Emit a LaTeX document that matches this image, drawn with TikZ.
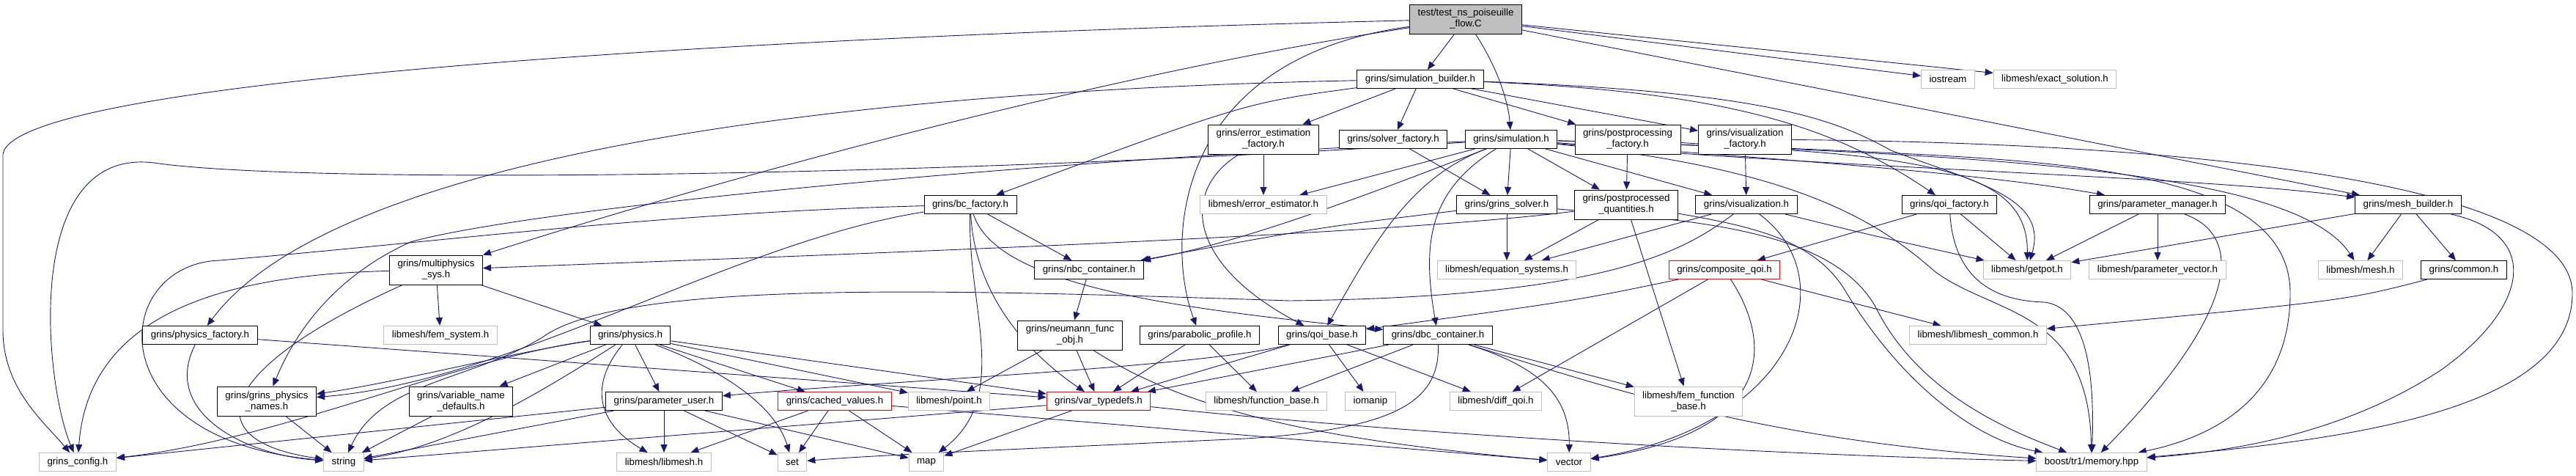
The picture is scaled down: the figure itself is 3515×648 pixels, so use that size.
\documentclass[tikz,border=0pt]{standalone}
\usepackage{fontspec}
\setmainfont{Liberation Sans}
\usetikzlibrary{arrows.meta}
\definecolor{edgec}{HTML}{191970}
\definecolor{grayb}{HTML}{BFBFBF}
\definecolor{redb}{HTML}{FF0000}
\pgfdeclarelayer{bg}
\pgfsetlayers{bg,main}
\begin{document}
\begin{tikzpicture}[x=1pt,y=-1pt,
 box/.style={draw=black, line width=1pt, rectangle, inner xsep=11pt, inner ysep=2pt, minimum height=25pt, align=center, font=\fontsize{13.3}{15}\selectfont, fill=white},
 gbox/.style={box, draw=grayb},
 rbox/.style={box, draw=redb},
 two/.style={minimum height=40pt},
 e/.style={draw=edgec, line width=0.9pt, -{Triangle[length=11pt,width=9pt]}},
]
\useasboundingbox (0,0) rectangle (3515,648);
% row 1
\node[box,two,fill=grayb] (test) at (2000,26) {test/test\_ns\_poiseuille\\\_flow.C};
% row 2
\node[box] (SB) at (1938,108) {grins/simulation\_builder.h};
\node[gbox] (iostream) at (2658,108) {iostream};
\node[gbox] (exact) at (2804,108) {libmesh/exact\_solution.h};
% row 3
\node[box,two] (eef) at (1724,190) {grins/error\_estimation\\\_factory.h};
\node[box] (solverf) at (1901,190) {grins/solver\_factory.h};
\node[box] (sim) at (2062,190) {grins/simulation.h};
\node[box,two] (ppf) at (2221,190) {grins/postprocessing\\\_factory.h};
\node[box,two] (vf) at (2381,190) {grins/visualization\\\_factory.h};
% row 4
\node[box] (bcf) at (1324,279) {grins/bc\_factory.h};
\node[gbox] (eest) at (1724,279) {libmesh/error\_estimator.h};
\node[box] (gsolver) at (2056,279) {grins/grins\_solver.h};
\node[box,two] (ppq) at (2219,279) {grins/postprocessed\\\_quantities.h};
\node[box] (vis) at (2383,279) {grins/visualization.h};
\node[box] (qoif) at (2660,279) {grins/qoi\_factory.h};
\node[box] (pm) at (2944,279) {grins/parameter\_manager.h};
\node[box] (mb) at (3286,279) {grins/mesh\_builder.h};
% row 5
\node[box,two] (mps) at (595,368) {grins/multiphysics\\\_sys.h};
\node[box] (nbc) at (1486,368) {grins/nbc\_container.h};
\node[gbox] (eqs) at (2056,368) {libmesh/equation\_systems.h};
\node[rbox] (cqoi) at (2353,368) {grins/composite\_qoi.h};
\node[gbox] (getpot) at (2766,368) {libmesh/getpot.h};
\node[gbox] (pvec) at (2944,368) {libmesh/parameter\_vector.h};
\node[gbox] (mesh) at (3221,368) {libmesh/mesh.h};
\node[box] (common) at (3362,368) {grins/common.h};
% row 6
\node[box] (pf) at (273,457) {grins/physics\_factory.h};
\node[gbox] (fem) at (601,457) {libmesh/fem\_system.h};
\node[box] (phys) at (860,457) {grins/physics.h};
\node[box,two] (nfo) at (1460,457) {grins/neumann\_func\\\_obj.h};
\node[box] (pp) at (1637,457) {grins/parabolic\_profile.h};
\node[box] (qb) at (1804,457) {grins/qoi\_base.h};
\node[box] (dbc) at (1962,457) {grins/dbc\_container.h};
\node[gbox] (lmc) at (2699,457) {libmesh/libmesh\_common.h};
% row 7
\node[box,two] (gpn) at (364,547) {grins/grins\_physics\\\_names.h};
\node[box,two] (vnd) at (629,547) {grins/variable\_name\\\_defaults.h};
\node[box] (pu) at (906,547) {grins/parameter\_user.h};
\node[rbox] (cv) at (1139,547) {grins/cached\_values.h};
\node[gbox] (point) at (1295,547) {libmesh/point.h};
\node[rbox] (vt) at (1499,547) {grins/var\_typedefs.h};
\node[gbox] (fb) at (1728,547) {libmesh/function\_base.h};
\node[gbox] (iomanip) at (1870,547) {iomanip};
\node[gbox] (dqoi) at (2041,547) {libmesh/diff\_qoi.h};
\node[gbox,two] (ffb) at (2304,547) {libmesh/fem\_function\\\_base.h};
% row 8
\node[gbox] (cfg) at (106,630) {grins\_config.h};
\node[gbox] (string) at (469,630) {string};
\node[gbox] (lm) at (906,630) {libmesh/libmesh.h};
\node[gbox] (set) at (1081,630) {set};
\node[gbox] (map) at (1264,630) {map};
\node[gbox] (vector) at (2141,630) {vector};
\node[gbox] (boost) at (2854,630) {boost/tr1/memory.hpp};

\begin{pgfonlayer}{bg}
% test
\draw[e] (test) -- (SB);
\draw[e] (test) .. controls (2045,95) and (2058,140) .. (sim);
\draw[e] (test) -- (iostream);
\draw[e] (test) -- (exact);
\draw[e] (test) .. controls (1000,50) and (20,110) .. (4,210) -- (4,450) .. controls (4,530) and (60,575) .. (cfg);
\draw[e] (test) .. controls (1450,110) and (900,270) .. (mps);
\draw[e] (test) .. controls (1600,80) and (1590,330) .. (pp);
\draw[e] (test) -- (mb);
% simulation_builder
\draw[e] (SB) .. controls (1100,125) and (450,220) .. (pf);
\draw[e] (SB) .. controls (1700,140) .. (bcf);
\draw[e] (SB) -- (eef);
\draw[e] (SB) -- (solverf);
\draw[e] (SB) -- (ppf);
\draw[e] (SB) -- (vf);
\draw[e] (SB) .. controls (2350,125) and (2500,170) .. (qoif);
\draw[e] (SB) .. controls (2400,125) and (2500,160) .. (2580,205) .. controls (2700,250) and (2795,270) .. (getpot);
% simulation
\draw[e] (sim) .. controls (1200,245) and (400,250) .. (210,222) .. controls (30,200) and (60,520) .. (cfg);
\draw[e] (sim) .. controls (1300,225) and (700,290) .. (560,330) .. controls (450,380) and (400,460) .. (gpn);
\draw[e] (sim) -- (eest);
\draw[e] (sim) .. controls (1880,260) and (1700,330) .. (nbc);
\draw[e] (sim) .. controls (1930,240) and (1880,320) .. (qb);
\draw[e] (sim) .. controls (1950,260) and (1940,330) .. (dbc);
\draw[e] (sim) -- (gsolver);
\draw[e] (sim) -- (ppq);
\draw[e] (sim) -- (vis);
\draw[e] (sim) .. controls (2600,205) and (2768,220) .. (getpot);
\draw[e] (sim) .. controls (2400,215) and (2700,235) .. (pm);
\draw[e] (sim) .. controls (2500,230) and (3000,240) .. (mb);
\draw[e] (sim) .. controls (2700,210) and (3130,230) .. (mesh);
\draw[e] (sim) .. controls (2450,230) and (2560,300) .. (2640,370) .. controls (2720,430) and (2850,420) .. (boost);
% factories
\draw[e] (ppf) -- (ppq);
\draw[e] (ppf) .. controls (2700,220) and (3125,200) .. (3125,400) .. controls (3125,520) and (3050,590) .. (boost);
\draw[e] (vf) -- (vis);
\draw[e] (vf) .. controls (3000,195) and (3510,250) .. (3510,400) .. controls (3510,560) and (3200,600) .. (boost);
\draw[e] (eef) -- (eest);
\draw[e] (eef) .. controls (1610,260) and (1620,360) .. (qb);
\draw[e] (solverf) -- (gsolver);
% bc_factory
\draw[e] (bcf) .. controls (900,290) and (600,330) .. (300,355) .. controls (150,360) and (130,600) .. (string);
\draw[e] (bcf) .. controls (1000,330) and (700,520) .. (gpn);
\draw[e] (bcf) -- (nbc);
\draw[e] (bcf) .. controls (1360,390) and (1600,420) .. (dbc);
\draw[e] (bcf) .. controls (1330,400) and (1400,480) .. (vt);
\draw[e] (bcf) .. controls (1320,420) and (1380,540) .. (map);
% grins_solver
\draw[e] (gsolver) -- (eqs);
\draw[e] (gsolver) .. controls (1800,310) .. (nbc);
\draw[e] (gsolver) .. controls (2300,300) and (2500,310) .. (2560,420) .. controls (2620,540) and (2750,590) .. (boost);
% postprocessed quantities
\draw[e] (ppq) -- (eqs);
\draw[e] (ppq) -- (ffb);
\draw[e] (ppq) .. controls (1900,320) and (1200,345) .. (mps);
\draw[e] (ppq) .. controls (2400,310) and (2480,330) .. (2520,400) .. controls (2600,530) and (2700,600) .. (boost);
% visualization
\draw[e] (vis) -- (eqs);
\draw[e] (vis) .. controls (2550,320) .. (getpot);
\draw[e] (vis) .. controls (2520,380) and (2450,580) .. (vector);
\draw[e] (vis) .. controls (2300,340) and (2200,405) .. (1760,410) .. controls (1300,395) and (850,380) .. (740,460) .. controls (640,520) and (520,520) .. (string);
% qoi factory
\draw[e] (qoif) -- (cqoi);
\draw[e] (qoif) -- (getpot);
\draw[e] (qoif) .. controls (2665,360) and (2700,410) .. (2790,412) .. controls (2850,420) and (2858,520) .. (boost);
% parameter manager
\draw[e] (pm) -- (getpot);
\draw[e] (pm) -- (pvec);
\draw[e] (pm) .. controls (3060,320) and (3060,420) .. (boost);
% mesh builder
\draw[e] (mb) -- (getpot);
\draw[e] (mb) -- (mesh);
\draw[e] (mb) -- (common);
\draw[e] (mb) .. controls (3470,320) and (3450,420) .. (3330,505) .. controls (3200,590) and (3050,615) .. (boost);
% composite qoi
\draw[e] (cqoi) .. controls (2150,410) .. (qb);
\draw[e] (cqoi) -- (dqoi);
\draw[e] (cqoi) -- (lmc);
\draw[e] (cqoi) .. controls (2420,470) and (2420,590) .. (vector);
\draw[e] (common) .. controls (3200,410) .. (lmc);
% multiphysics sys
\draw[e] (mps) -- (fem);
\draw[e] (mps) -- (phys);
\draw[e] (mps) .. controls (280,375) and (120,440) .. (cfg);
\draw[e] (mps) .. controls (300,500) and (260,600) .. (string);
% physics factory
\draw[e] (pf) .. controls (220,560) and (330,620) .. (string);
\draw[e] (pf) -- (vt);
% physics
\draw[e] (phys) .. controls (700,480) and (550,520) .. (gpn);
\draw[e] (phys) .. controls (620,490) and (380,600) .. (cfg);
\draw[e] (phys) .. controls (700,560) and (600,610) .. (string);
\draw[e] (phys) -- (vnd);
\draw[e] (phys) -- (pu);
\draw[e] (phys) .. controls (800,530) and (820,580) .. (lm);
\draw[e] (phys) .. controls (1000,510) and (1060,560) .. (set);
\draw[e] (phys) -- (cv);
\draw[e] (phys) -- (vt);
\draw[e] (phys) -- (point);
% parameter user
\draw[e] (pu) -- (cfg);
\draw[e] (pu) -- (string);
\draw[e] (pu) -- (lm);
\draw[e] (pu) -- (set);
\draw[e] (pu) -- (map);
\draw[e] (vnd) -- (string);
\draw[e] (gpn) -- (string);
% cached values
\draw[e] (cv) -- (lm);
\draw[e] (cv) -- (set);
\draw[e] (cv) -- (map);
\draw[e] (cv) -- (vector);
% var typedefs
\draw[e] (vt) -- (string);
\draw[e] (vt) -- (map);
\draw[e] (vt) .. controls (1900,590) and (2400,620) .. (boost);
% nbc / neumann
\draw[e] (nbc) -- (nfo);
\draw[e] (nfo) -- (point);
\draw[e] (nfo) -- (vt);
\draw[e] (nfo) .. controls (1620,560) and (1800,600) .. (vector);
% parabolic profile
\draw[e] (pp) -- (vt);
\draw[e] (pp) -- (fb);
% qoi base
\draw[e] (qb) .. controls (1650,500) and (1200,520) .. (pu);
\draw[e] (qb) -- (vt);
\draw[e] (qb) -- (iomanip);
\draw[e] (qb) -- (dqoi);
% dbc container
\draw[e] (dbc) -- (vt);
\draw[e] (dbc) -- (fb);
\draw[e] (dbc) .. controls (1965,550) and (1900,585) .. (1700,598) .. controls (1400,612) and (1200,620) .. (set);
\draw[e] (dbc) -- (ffb);
\draw[e] (dbc) .. controls (2100,500) and (2142,540) .. (vector);
\draw[e] (dbc) .. controls (2200,530) and (2400,600) .. (boost);
\end{pgfonlayer}
\end{tikzpicture}
\end{document}
